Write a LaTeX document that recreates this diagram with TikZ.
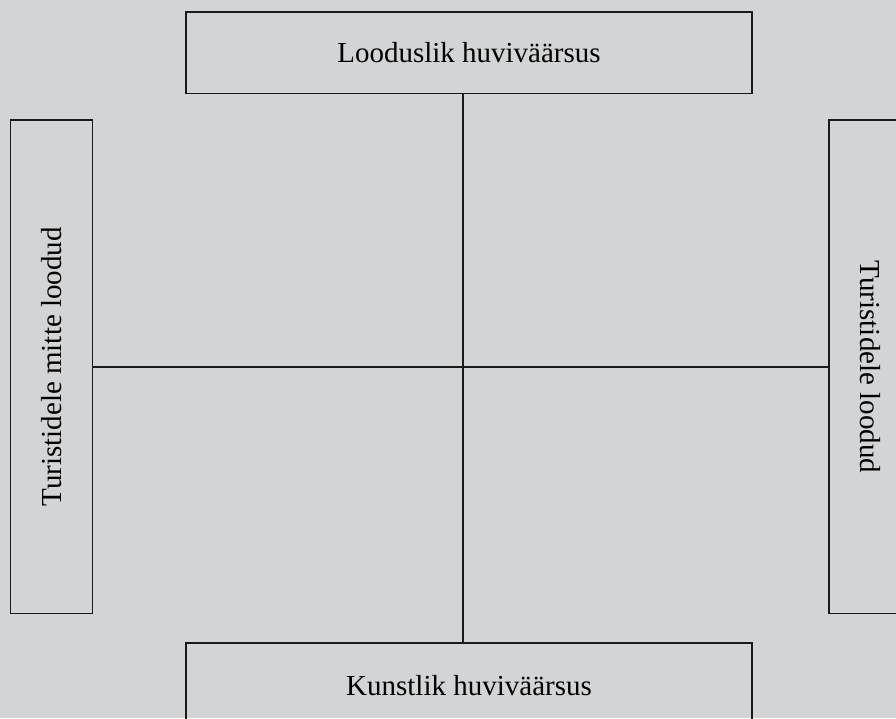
\documentclass[tikz,border=0pt]{standalone}
\usepackage{fontspec}
\setmainfont{Liberation Serif}
\definecolor{bggray}{RGB}{211,212,214}
\definecolor{edgegray}{RGB}{25,25,25}

\begin{document}
\begin{tikzpicture}[x=1pt, y=-1pt,
    axisbox/.style={draw=edgegray, line width=1.4pt, inner sep=0pt, outer sep=0pt,
        font=\fontsize{29}{35}\selectfont},
    axisline/.style={draw=edgegray, line width=1.4pt}]
    % canvas of the reference, boxes running off the edge are cut
    \useasboundingbox (0,0) rectangle (896,718);
    \fill[bggray] (0,0) rectangle (896,718);
    \clip (0,0) rectangle (896,718);
    \node[axisbox, minimum width=566pt, minimum height=81.5pt] (natural) at (469,52.75) {Looduslik huviväärsus};
    \node[axisbox, minimum width=566pt, minimum height=86pt] (artificial) at (469,686) {Kunstlik huviväärsus};
    % side boxes, turned with their text
    \node[axisbox, rotate=90, minimum width=493.7pt, minimum height=82pt] (notmade) at (51.7,366.9) {Turistidele mitte loodud};
    \node[axisbox, rotate=-90, minimum width=493.7pt, minimum height=82pt] (made) at (870,366.9) {Turistidele loodud};
    \coordinate (hub) at (463,366.9);
    \draw[axisline] (hub |- natural.south) -- (hub |- artificial.north);
    \draw[axisline] (notmade.south) -- (made.south);
\end{tikzpicture}
\end{document}
